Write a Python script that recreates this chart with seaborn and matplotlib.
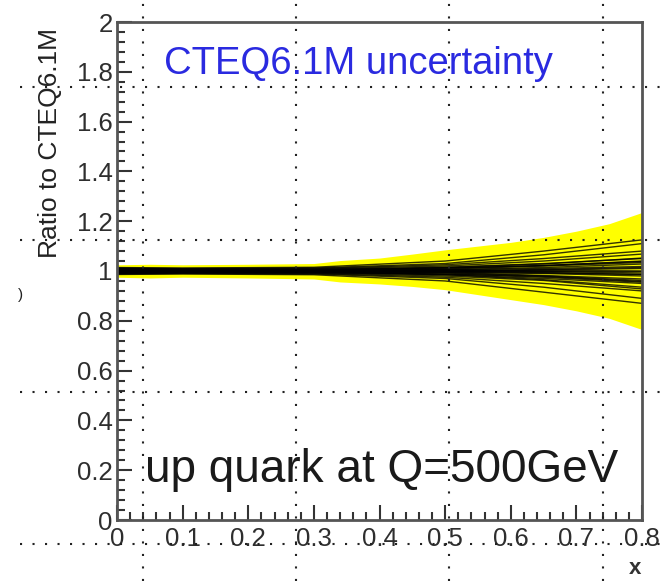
import numpy as np
import pandas as pd
import matplotlib
matplotlib.use("Agg")
import matplotlib.pyplot as plt
from matplotlib.lines import Line2D
from matplotlib.ticker import MultipleLocator
import seaborn as sns

# ---- data -------------------------------------------------------------
# envelope of the PDF error sets (ratio to central fit)
band_x  = [0.00, 0.05, 0.10, 0.20, 0.30, 0.34, 0.40, 0.45, 0.50, 0.55, 0.60, 0.65, 0.70, 0.75, 0.80]
band_hi = [1.025, 1.027, 1.025, 1.027, 1.030, 1.042, 1.052, 1.068, 1.085, 1.100, 1.115, 1.135, 1.160, 1.190, 1.235]
band_lo = [0.975, 0.972, 0.975, 0.972, 0.968, 0.956, 0.948, 0.938, 0.925, 0.905, 0.885, 0.865, 0.840, 0.810, 0.765]

# individual error-set members, ratio at member_x
member_x = [0.0, 0.1, 0.3, 0.5, 0.65, 0.8]
members = {
    "01": [1.006, 1.004, 1.006, 1.015, 1.030, 1.050],
    "02": [0.994, 0.996, 0.994, 0.985, 0.970, 0.950],
    "03": [1.010, 1.008, 1.010, 1.025, 1.050, 1.080],
    "04": [0.990, 0.992, 0.990, 0.975, 0.950, 0.920],
    "05": [1.003, 1.002, 1.002, 1.005, 1.010, 1.018],
    "06": [0.997, 0.998, 0.998, 0.995, 0.990, 0.980],
    "07": [1.008, 1.006, 1.005, 1.012, 1.022, 1.040],
    "08": [0.992, 0.994, 0.995, 0.988, 0.975, 0.955],
    "09": [1.000, 1.003, 1.004, 1.002, 0.998, 0.992],
    "10": [1.000, 0.997, 0.996, 0.998, 1.004, 1.010],
    "11": [1.012, 1.010, 1.012, 1.030, 1.065, 1.110],
    "12": [0.988, 0.990, 0.988, 0.970, 0.935, 0.890],
    "13": [1.004, 1.001, 0.999, 0.992, 0.980, 0.962],
    "14": [0.996, 0.999, 1.001, 1.008, 1.020, 1.034],
    "15": [1.005, 1.007, 1.008, 1.020, 1.040, 1.068],
    "16": [0.995, 0.993, 0.992, 0.980, 0.962, 0.928],
    "17": [1.004, 1.002, 0.997, 0.985, 0.965, 0.935],
    "18": [0.996, 0.998, 1.003, 1.014, 1.028, 1.052],
    "19": [1.002, 1.000, 1.002, 1.004, 1.003, 1.000],
    "20": [0.998, 1.001, 0.998, 0.996, 0.992, 0.986],
    "21": [1.007, 1.004, 1.001, 0.994, 0.982, 0.968],
    "22": [0.993, 0.996, 0.999, 1.005, 1.014, 1.028],
    "23": [1.014, 1.012, 1.015, 1.040, 1.080, 1.125],
    "24": [0.986, 0.988, 0.985, 0.960, 0.915, 0.870],
    "25": [1.001, 1.003, 1.005, 1.011, 1.022, 1.038],
    "26": [0.999, 0.998, 0.994, 0.988, 0.978, 0.958],
    "27": [1.009, 1.006, 1.003, 1.000, 1.006, 1.014],
    "28": [0.991, 0.994, 0.997, 1.000, 0.994, 0.986],
    "00": [1.000, 1.000, 1.000, 1.000, 1.000, 1.000],
}

x_ticks = [0.0, 0.1, 0.2, 0.3, 0.4, 0.5, 0.6, 0.7, 0.8]
y_ticks = [0.0, 0.2, 0.4, 0.6, 0.8, 1.0, 1.2, 1.4, 1.6, 1.8, 2.0]

# ---- figure -----------------------------------------------------------
sns.set_style("white")
plt.rcParams["font.family"] = ["Liberation Sans", "DejaVu Sans"]

W, H = 669, 581
fig = plt.figure(figsize=(W / 100, H / 100), dpi=100, facecolor="white")
L, R, T, B = 117, 642, 22, 520
ax = fig.add_axes([L / W, 1 - B / H, (R - L) / W, (B - T) / H])
ax.set_facecolor("white")

ax.fill_between(band_x, band_lo, band_hi, color="#ffff00", lw=0, zorder=1)

rows = [(name, x, v) for name, vals in members.items() for x, v in zip(member_x, vals)]
df = pd.DataFrame(rows, columns=["member", "x", "ratio"])
sns.lineplot(data=df, x="x", y="ratio", units="member", estimator=None,
             color="black", lw=1.0, alpha=0.8, ax=ax, zorder=2, legend=False)

ax.set_xlim(0, 0.8)
ax.set_ylim(0, 2)
ax.set_xlabel("")
ax.set_ylabel("")

ax.set_xticks(x_ticks)
ax.set_yticks(y_ticks)
ax.xaxis.set_minor_locator(MultipleLocator(0.02))
ax.yaxis.set_minor_locator(MultipleLocator(0.04))
ax.set_xticklabels(["0" if t == 0 else f"{t:g}" for t in x_ticks])
ax.set_yticklabels(["0" if t == 0 else f"{t:g}" for t in y_ticks])

ax.tick_params(which="both", direction="in", colors="#333333", width=1.5,
               labelcolor="#2e2e2e", labelsize=18.5, top=False, right=False,
               left=True, bottom=True)
ax.tick_params(which="major", length=11)
ax.tick_params(which="minor", length=6)
ax.tick_params(axis="x", which="major", pad=5)
ax.tick_params(axis="y", which="major", pad=3)

for s in ax.spines.values():
    s.set_visible(True)
    s.set_color("#555555")
    s.set_linewidth(2.0)

# ---- texts ------------------------------------------------------------
ax.text(0.071, 1.83, "CTEQ6.1M uncertainty", color="#2a2ae0", fontsize=27.5,
        ha="left", va="center")
ax.text(0.042, 0.20, "up quark at Q=500GeV", color="#1a1a1a", fontsize=33,
        ha="left", va="center")
fig.text(50 / W, 1 - 28 / H, "Ratio to CTEQ6.1M", rotation=90, ha="center",
         va="top", fontsize=19, color="#222222")
fig.text(635 / W, 1 - 569 / H, "x", ha="center", va="center", fontsize=16,
         fontweight="bold", color="#333333")
fig.text(20 / W, 1 - 295 / H, ")", ha="center", va="center", fontsize=11,
         color="#222222")

# ---- canvas grid, drawn across the whole pad --------------------------
grid_v = [142.7, 296.0, 449.3, 602.6]
grid_h = [87.3, 239.5, 391.7, 544.0]
for gx in grid_v:
    fig.lines.append(Line2D([gx / W, gx / W], [0, 1], transform=fig.transFigure,
                            color="#222222", lw=1.5, ls=(0, (1, 5)), zorder=5))
for gy in grid_h:
    fig.lines.append(Line2D([20 / W, 1], [1 - gy / H, 1 - gy / H], transform=fig.transFigure,
                            color="#222222", lw=1.5, ls=(0, (1, 5)), zorder=5))

fig.savefig("out.png", dpi=100, facecolor="white")
